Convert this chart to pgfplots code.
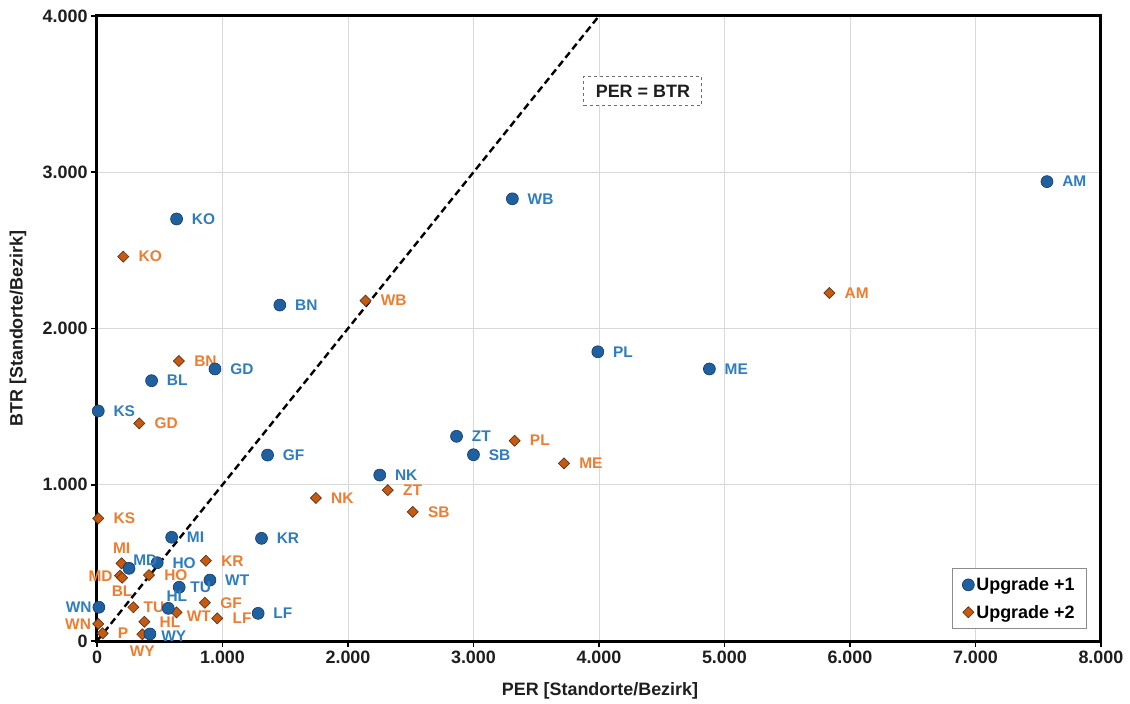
\documentclass[border=0pt]{standalone}
\usepackage{pgfplots}
\pgfplotsset{compat=1.18}
\usepackage{fontspec}
\setmainfont{Liberation Sans}

\definecolor{bluemk}{RGB}{31,96,160}
\definecolor{blueedge}{RGB}{22,58,100}
\definecolor{bluelab}{RGB}{46,125,190}
\definecolor{orgmk}{RGB}{197,90,17}
\definecolor{orgedge}{RGB}{95,50,25}
\definecolor{orglab}{RGB}{237,125,49}
\definecolor{gridgray}{RGB}{217,217,217}
\definecolor{ticktext}{RGB}{30,30,30}
\definecolor{legframe}{RGB}{140,140,140}
\definecolor{boxframe}{RGB}{110,110,110}

\pgfplotsset{
  dotlegend/.style={legend image code/.code={%
    \draw[mark repeat=2,mark phase=2,##1] plot coordinates {(0bp,0bp) (6bp,0bp) (12bp,0bp)};}},
  % labelled markers; arguments: label anchor, x shift, y shift (bp)
  up one/.style n args={3}{only marks, mark=*, mark size=6bp,
    mark options={fill=bluemk, draw=blueedge, line width=0.6bp},
    dotlegend, nodes near coords, point meta=explicit symbolic,
    nodes near coords style={anchor=#1, xshift=#2bp, yshift=#3bp, inner sep=0pt,
      font=\fontsize{15.5}{17}\selectfont\bfseries, text=bluelab}},
  up two/.style n args={3}{only marks, mark=square*, mark size=3.9bp,
    mark options={rotate=45, fill=orgmk, draw=orgedge, line width=0.7bp},
    dotlegend, nodes near coords, point meta=explicit symbolic,
    nodes near coords style={anchor=#1, xshift=#2bp, yshift=#3bp, inner sep=0pt,
      font=\fontsize{15.5}{17}\selectfont\bfseries, text=orglab}},
}

\begin{document}
\begin{tikzpicture}
\useasboundingbox (-97bp,-63bp) rectangle (1033bp,641bp);
\begin{axis}[
  at={(0,0)}, anchor=south west,
  scale only axis, width=1004bp, height=625bp,
  xmin=0, xmax=8000, ymin=0, ymax=4000,
  xtick distance=1000, ytick distance=1000,
  scaled ticks=false,
  /pgf/number format/1000 sep={.},
  /pgf/number format/assume math mode=true,
  tick label style={font=\fontsize{18}{20}\selectfont\bfseries, text=ticktext},
  tick pos=left, tick align=outside,
  major tick length=6bp,
  every tick/.style={black, line width=1.6bp},
  axis line style={black, line width=3bp},
  grid=major,
  grid style={gridgray, line width=0.9bp},
  clip=false,
  xlabel={PER [Standorte/Bezirk]},
  ylabel={BTR [Standorte/Bezirk]},
  every axis x label/.style={at={(axis description cs:0.501,-0.080)}, anchor=center,
    font=\fontsize{18}{20}\selectfont\bfseries, text=ticktext},
  every axis y label/.style={at={(axis description cs:-0.0787,0.5)}, rotate=90, anchor=center,
    font=\fontsize{18}{20}\selectfont\bfseries, text=ticktext},
  legend style={at={(1,0)}, anchor=south east, xshift=-14bp, yshift=12bp,
    draw=legframe, line width=0.8bp,
    font=\fontsize{18}{20}\selectfont\bfseries,
    inner xsep=10bp, inner ysep=6bp, row sep=7bp,
    nodes={inner xsep=2bp, inner ysep=3bp},
    /tikz/every even column/.append style={column sep=0bp}},
  legend cell align=left,
  reverse legend,
]

% bisecting line PER = BTR
\addplot[forget plot, black, line width=2.4bp, dash pattern=on 7bp off 4bp]
  coordinates {(0,0) (4000,4000)};

% ---- Upgrade +2 ----
\addplot[up two={west}{15}{0}] coordinates {
  (5836,2227) [AM]  (210,2460) [KO]  (2140,2178) [WB]  (653,1792) [BN]
  (337,1393) [GD]   (3328,1282) [PL] (3721,1137) [ME]  (1744,915) [NK]
  (2317,966) [ZT]   (2516,826) [SB]  (10,785) [KS]     (868,514) [KR]
  (414,422) [HO]    (860,245) [GF]   (377,123) [HL]    (958,145) [LF]
  (45,49) [P]
};
\addlegendentry{Upgrade +2}
\addplot[up two={center}{0}{15}, forget plot] coordinates {(196,497) [MI]};
\addplot[up two={east}{-7}{0}, forget plot] coordinates {(183,418) [MD] (10,109) [WN]};
\addplot[up two={center}{0}{-13}, forget plot] coordinates {(200,405) [BL]};
\addplot[up two={west}{10}{0}, forget plot] coordinates {(289,216) [TU]};
\addplot[up two={west}{10}{-4}, forget plot] coordinates {(634,183) [WT]};
\addplot[up two={center}{0}{-17}, forget plot] coordinates {(361,43) [WY]};

% ---- Upgrade +1 ----
\addplot[up one={west}{15}{0}] coordinates {
  (7570,2940) [AM]  (3310,2830) [WB]  (634,2701) [KO]   (1457,2150) [BN]
  (3991,1851) [PL]  (4880,1741) [ME]  (435,1666) [BL]   (940,1741) [GD]
  (10,1472) [KS]    (2865,1310) [ZT]  (3000,1192) [SB]  (1359,1190) [GF]
  (2253,1062) [NK]  (595,664) [MI]    (1311,657) [KR]   (480,501) [HO]
  (900,390) [WT]    (1284,177) [LF]
};
\addlegendentry{Upgrade +1}
\addplot[up one={west}{4}{8}, forget plot] coordinates {(255,465) [MD]};
\addplot[up one={west}{11}{0}, forget plot] coordinates {(655,344) [TU]};
\addplot[up one={east}{-7}{0}, forget plot] coordinates {(15,216) [WN]};
\addplot[up one={west}{-2}{12}, forget plot] coordinates {(568,209) [HL]};
\addplot[up one={west}{11}{-2}, forget plot] coordinates {(422,45) [WY]};

\node[draw=boxframe, dashed, line width=1bp, fill=white,
  inner xsep=12bp, inner ysep=8bp, font=\fontsize{18}{20}\selectfont\bfseries,
  text=ticktext] at (axis cs:4350,3520) {PER = BTR};
\end{axis}
\end{tikzpicture}
\end{document}
